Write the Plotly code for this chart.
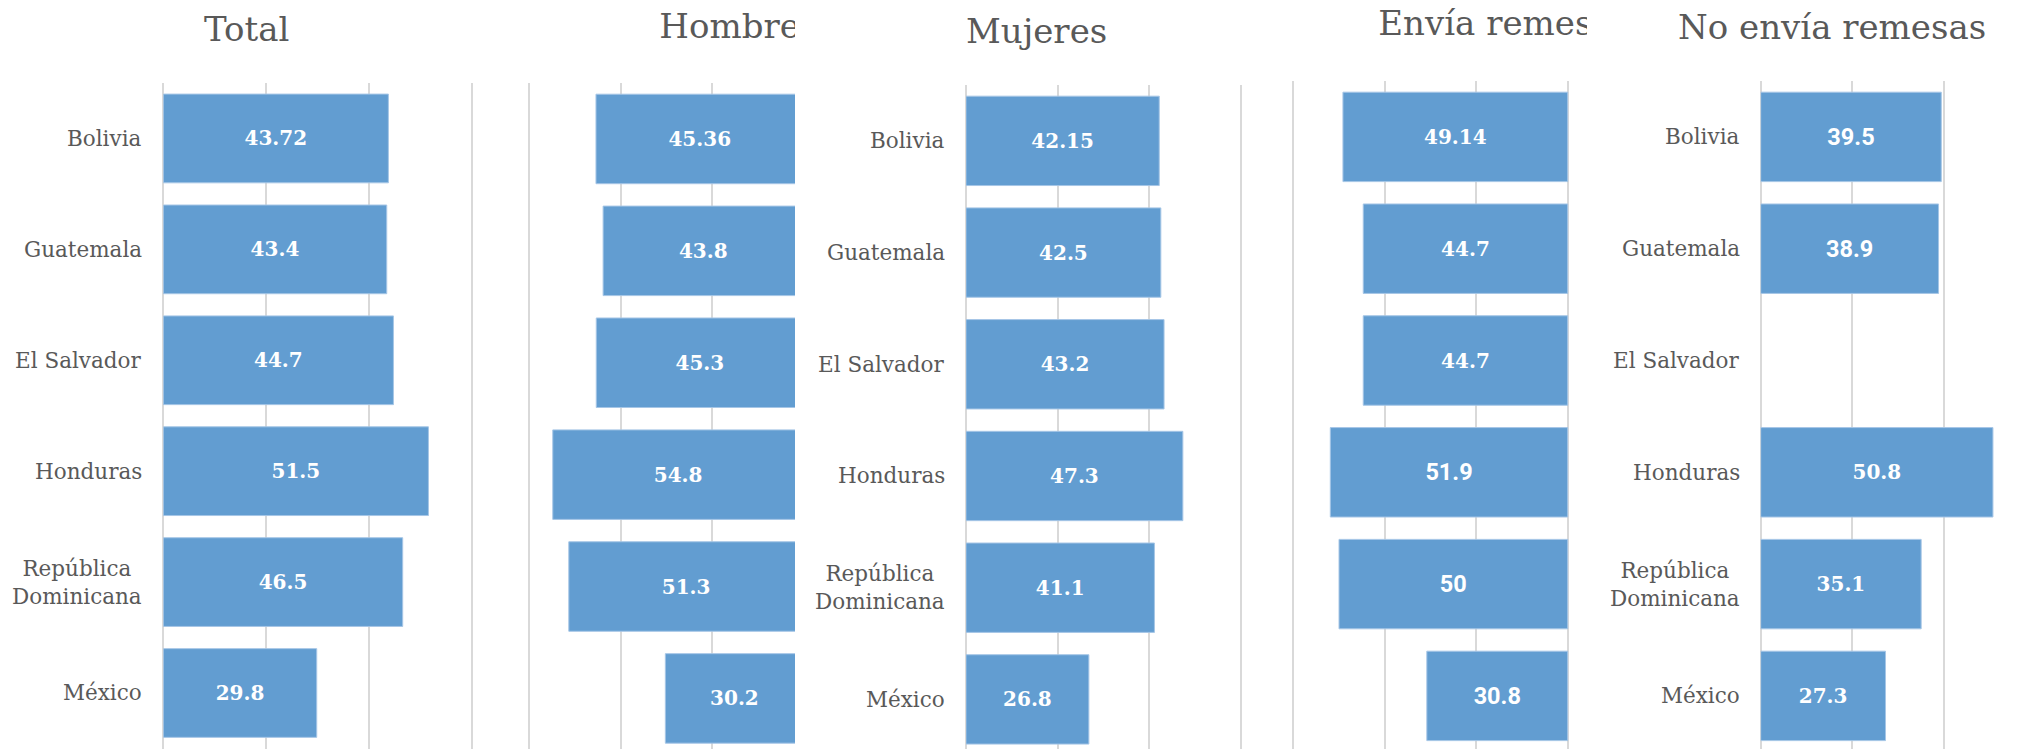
import plotly.graph_objects as go

# ---------------- data ----------------
countries = ["Bolivia", "Guatemala", "El Salvador", "Honduras",
             "República Dominicana", "México"]
country_labels = ["Bolivia", "Guatemala", "El Salvador", "Honduras",
                  "República<br>Dominicana", "México"]

total = [43.72, 43.4, 44.7, 51.5, 46.5, 29.8]
hombre = [45.36, 43.8, 45.3, 54.8, 51.3, 30.2]
mujeres = [42.15, 42.5, 43.2, 47.3, 41.1, 26.8]
envia = [49.14, 44.7, 44.7, 51.9, 50, 30.8]
no_envia = [39.5, 38.9, None, 50.8, 35.1, 27.3]

titles = ["Total", "Hombre", "Mujeres", "Envía remesas", "No envía remesas"]

# ---------------- style ----------------
W, H = 2019, 749
BAR = "#629dd1"
EDGE = "#a6c6e6"
GRID = "#d9d9d9"
TXT = "#595959"
SERIF = "DejaVu Serif"
SANS = "Roboto"


def fx(px):
    return px / W


def fy(py):
    return (H - py) / H


# per-panel label fonts (some value labels are rendered in a sans font)
fam_total = [SERIF] * 6
fam_hombre = [SERIF] * 6
fam_mujeres = [SERIF] * 6
fam_envia = [SERIF, SERIF, SERIF, SANS, SANS, SANS]
fam_no = [SANS, SANS, SERIF, SERIF, SERIF, SERIF]


def sizes(fams):
    return [23.5 if f == SANS else 20 for f in fams]


# panel geometry: (x pixel domain, x range, top pixel, y range top value)
panels = [
    dict(vals=total, fam=fam_total, xd=(163.3, 500), xr=[0, 65.4], top=83, yr=5.505, labels=True),
    dict(vals=hombre, fam=fam_hombre, xd=(510, 795), xr=[64.15, 1.86], top=83, yr=5.452, labels=False),
    dict(vals=mujeres, fam=fam_mujeres, xd=(966, 1275), xr=[0, 67.4], top=85, yr=5.444, labels=True),
    dict(vals=envia, fam=fam_envia, xd=(1280, 1587), xr=[62.9, -4.22], top=81, yr=5.475, labels=False),
    dict(vals=no_envia, fam=fam_no, xd=(1760.7, 2019), xr=[0, 56.5], top=81, yr=5.475, labels=True),
]

fig = go.Figure()
layout = dict(
    width=W, height=H,
    margin=dict(l=0, r=0, t=0, b=0),
    paper_bgcolor="white", plot_bgcolor="white",
    showlegend=False,
    annotations=[],
)

for i, p in enumerate(panels):
    n = "" if i == 0 else str(i + 1)
    fig.add_trace(go.Bar(
        x=p["vals"], y=countries, orientation="h",
        xaxis="x" + n, yaxis="y" + n,
        marker=dict(color=BAR, line=dict(color=EDGE, width=1)),
        width=0.8,
        text=[("" if v is None else f"{v:g}") for v in p["vals"]],
        textposition="inside", insidetextanchor="middle",
        textangle=0, constraintext="none",
        textfont=dict(color="white", size=sizes(p["fam"]), family=p["fam"], weight="bold"),
        cliponaxis=True,
        hoverinfo="skip",
    ))
    layout["xaxis" + n] = dict(
        domain=[fx(p["xd"][0]), fx(p["xd"][1])],
        range=p["xr"], tick0=0, dtick=20,
        showgrid=True, gridcolor=GRID, gridwidth=1.5,
        zeroline=True, zerolinecolor=GRID, zerolinewidth=1.5,
        showticklabels=False, ticks="", showline=False,
        anchor="y" + n, fixedrange=True,
    )
    layout["yaxis" + n] = dict(
        domain=[0, fy(p["top"])],
        type="category", categoryorder="array", categoryarray=countries,
        range=[p["yr"], -0.5],
        showgrid=False, zeroline=False, showticklabels=False,
        ticks="", showline=False, anchor="x" + n, fixedrange=True,
    )
    if p["labels"]:
        for c, lab in zip(countries, country_labels):
            layout["annotations"].append(dict(
                xref="x" + n + " domain", x=0, xanchor="right", xshift=-19,
                yref="y" + n, y=c, yanchor="middle",
                text=lab, align="center", showarrow=False,
                font=dict(family=SERIF, size=21.5, color=TXT),
            ))

# unclipped titles
title_specs = [
    (titles[0], 246.5, 29, "center"),
    (titles[2], 964, 30.8, "left"),
    (titles[4], 1676, 27, "left"),
]
for t, x, y, anc in title_specs:
    layout["annotations"].append(dict(
        xref="paper", yref="paper", x=fx(x), y=fy(y),
        xanchor=anc, yanchor="middle", text=t, showarrow=False,
        font=dict(family=SERIF, size=34, color=TXT),
    ))

# clipped titles (cut at the edge of their panel, as in the reference)
clip_specs = [
    (titles[1], (510, 795), 659.3, 29),
    (titles[3], (1280, 1587), 1378.3, 26.5),
]
for k, (t, (x0, x1), xl, yc) in enumerate(clip_specs):
    n = str(6 + k)
    fig.add_trace(go.Scatter(
        x=[(xl - x0) / (x1 - x0)], y=[(60 - yc) / 60],
        mode="text", text=[t], textposition="middle right",
        textfont=dict(family=SERIF, size=34, color=TXT),
        xaxis="x" + n, yaxis="y" + n, cliponaxis=True, hoverinfo="skip",
    ))
    layout["xaxis" + n] = dict(domain=[fx(x0), fx(x1)], range=[0, 1], visible=False,
                               anchor="y" + n, fixedrange=True)
    layout["yaxis" + n] = dict(domain=[fy(60), 1], range=[0, 1], visible=False,
                               anchor="x" + n, fixedrange=True)

fig.update_layout(**layout)
fig.write_html(
    "out.html",
    config={"displayModeBar": False},
    post_script="document.body.style.margin='0';document.body.style.overflow='hidden';",
)
